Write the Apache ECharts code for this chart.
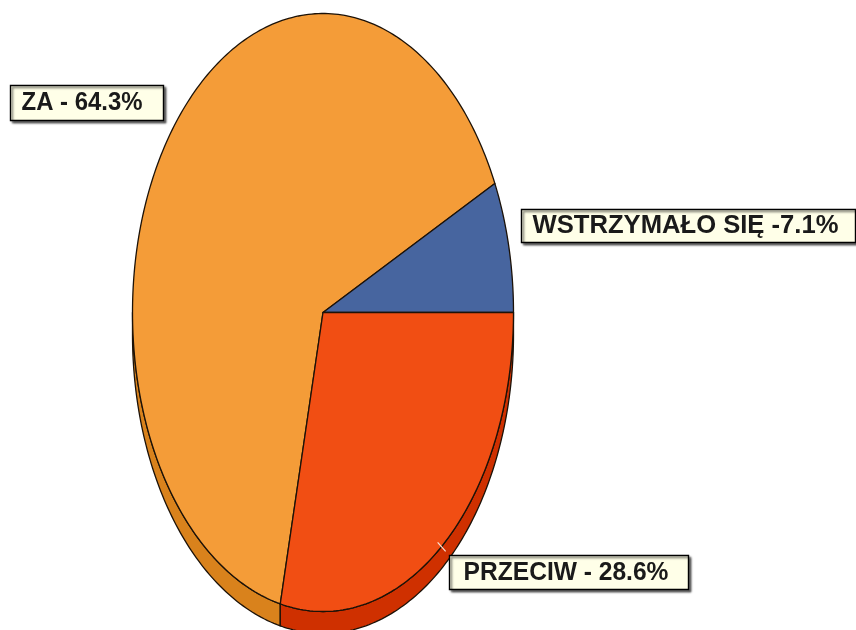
<!DOCTYPE html>
<html><head><meta charset="utf-8">
<style>html,body{margin:0;padding:0;background:#fff}#c{width:856px;height:630px}</style>
<script src="https://cdn.jsdelivr.net/npm/echarts@6/dist/echarts.min.js"></script>
</head><body><div id="c"></div>
<script>
const categories = ['ZA', 'WSTRZYMAŁO SIĘ', 'PRZECIW'];
const shares = [64.3, 7.1, 28.6];
const labelTexts = ['ZA - 64.3%', 'WSTRZYMAŁO SIĘ -7.1%', 'PRZECIW - 28.6%'];

const topColors = ['#F49C38', '#47659F', '#F14E13'];
const sideColors = ['#D9821C', '#2F4A80', '#CF3000'];
const cx = 323, cy = 312.5, rx = 190.5, ry = 299, depth = 22;
const startDeg = shares[2] * 3.6;
const edge = '#1c1208';
const boxes = [[10.5, 85.5, 153, 35], [521.5, 209.5, 334, 33], [449.5, 555.5, 239, 34]];
const textScale = [0.92, 0.985, 0.945];
const textShift = [-5, -3, -3];

function range(i) {
  let a = startDeg;
  for (let k = 0; k < i; k++) a += shares[k] * 3.6;
  return [a, a + shares[i] * 3.6];
}
function pt(deg, dy) {
  const t = deg * Math.PI / 180;
  return [cx + rx * Math.cos(t), cy + ry * Math.sin(t) + (dy || 0)];
}
function arc(a, b, dy) {
  const out = [];
  const n = Math.max(2, Math.ceil(Math.abs(b - a)));
  for (let k = 0; k <= n; k++) out.push(pt(a + (b - a) * k / n, dy));
  return out;
}
const dataRows = shares.map((v, i) => ({ name: categories[i], value: [i, v] }));

const chart = echarts.init(document.getElementById('c'), null, { renderer: 'canvas' });
chart.setOption({
  animation: false,
  backgroundColor: '#fff',
  xAxis: { show: false, min: 0, max: 1 },
  yAxis: { show: false, min: 0, max: 1 },
  grid: { left: 0, right: 0, top: 0, bottom: 0 },
  series: [
    {
      type: 'custom', coordinateSystem: 'none', z: 1, silent: true, data: dataRows, clip: false,
      renderItem(params, api) {
        const i = api.value(0);
        const r = range(i);
        // the visible wall is the front half of the rim (0..180 degrees, also after one full turn)
        const children = [];
        [0, 360].forEach(function (turn) {
          const a = Math.max(r[0] - turn, 0), b = Math.min(r[1] - turn, 180);
          if (b <= a) return;
          children.push({ type: 'polygon', shape: { points: arc(a, b, depth).concat(arc(b, a, 0)) },
            style: { fill: sideColors[i], stroke: edge, lineWidth: 1.3, lineJoin: 'round' } });
        });
        return { type: 'group', children };
      }
    },
    {
      type: 'custom', coordinateSystem: 'none', z: 2, silent: true, data: dataRows, clip: false,
      renderItem(params, api) {
        const i = api.value(0);
        const r = range(i);
        const pts = [[cx, cy]].concat(arc(r[0], r[1], 0));
        return { type: 'polygon', shape: { points: pts },
          style: { fill: topColors[i], stroke: edge, lineWidth: 1.3, lineJoin: 'round' } };
      }
    },
    {
      type: 'custom', coordinateSystem: 'none', z: 3, silent: true, data: dataRows, clip: false,
      renderItem(params, api) {
        const i = api.value(0);
        const b = boxes[i];
        const r = range(i);
        const m = pt((r[0] + r[1]) / 2, 0);
        const children = [
          { type: 'rect', shape: { x: b[0], y: b[1], width: b[2], height: b[3] },
            style: { fill: '#FFFFE8', stroke: '#000', lineWidth: 1.4,
              shadowColor: 'rgba(0,0,0,0.55)', shadowBlur: 2, shadowOffsetX: 2, shadowOffsetY: 2 } },
          { type: 'text', x: b[0] + b[2] / 2 + textShift[i], y: b[1] + b[3] / 2, scaleX: textScale[i],
            style: { text: labelTexts[i], fill: '#1a1a1a', align: 'center', verticalAlign: 'middle',
              font: 'bold 26px "Liberation Sans", Arial, sans-serif' } }
        ];
        if (i === 2) {
          children.unshift({ type: 'line', shape: { x1: m[0] - 4, y1: m[1] - 4, x2: m[0] + 4, y2: m[1] + 5 },
            style: { stroke: '#FBE3D6', lineWidth: 1.2 } });
        }
        return { type: 'group', children };
      }
    }
  ]
});
</script></body></html>
